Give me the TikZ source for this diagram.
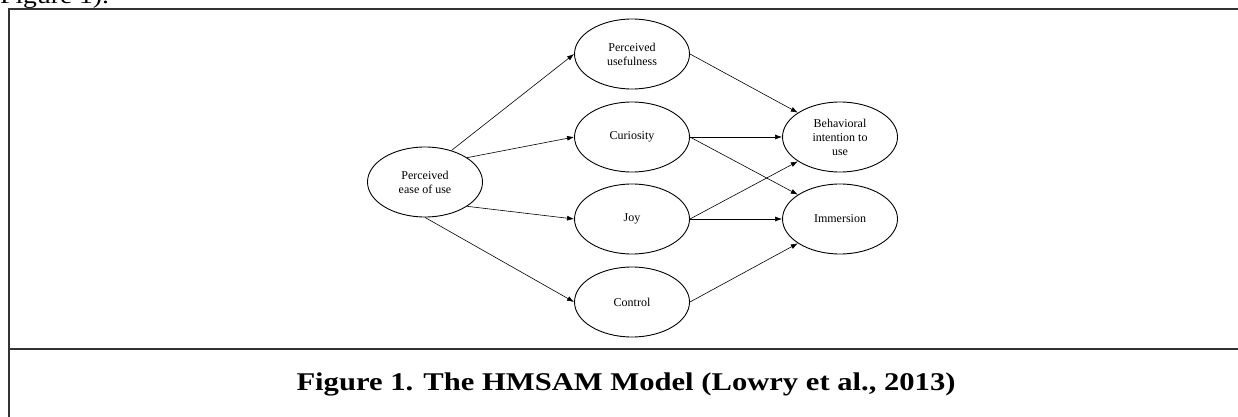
\documentclass[tikz,border=0pt]{standalone}
\usepackage{fontspec}
\setmainfont{Liberation Serif}
\newfontfamily\capfont[FakeStretch=1.2]{Liberation Serif}
\usetikzlibrary{arrows.meta,shapes.geometric}

\begin{document}
\begin{tikzpicture}[x=1pt,y=-1pt,every node/.style={align=center,font=\fontsize{12}{14}\selectfont},
 construct/.style={draw,ellipse,line width=.9pt,minimum width=115pt,minimum height=70pt,inner sep=0pt},
 arr/.style={-{Latex[length=7pt,width=5pt]},line width=.6pt},
 frame/.style={draw=black!80,line width=1.4pt}]
\useasboundingbox (0,0) rectangle (1238,417);
\clip (0,0) rectangle (1238,417);
\node[anchor=base west,inner sep=0pt,font=\capfont\fontsize{23}{28}\selectfont] (head) at (0,4) {Figure 1).};
\draw[frame] (1240,9) -- (9,9) -- (9,420);
\draw[frame] (9,349) -- (1240,349);
\node[construct] (peou) at (425,182) {Perceived\\ease of use};
\node[construct] (pu) at (632,54) {Perceived\\usefulness};
\node[construct] (cur) at (632,137) {Curiosity};
\node[construct] (joy) at (632,219) {Joy};
\node[construct] (ctrl) at (632,302) {Control};
\node[construct] (bi) at (840,137) {Behavioral\\intention to\\use};
\node[construct] (imm) at (840,219) {Immersion};
\draw[arr] (peou.50)--(pu.west);
\draw[arr] (peou.30)--(cur.west);
\draw[arr] (peou.-30)--(joy.west);
\draw[arr] (peou.south)--(ctrl.west);
\draw[arr] (pu.east)--(bi.150);
\draw[arr] (cur.east)--(bi.west);
\draw[arr] (cur.east)--(imm.150);
\draw[arr] (joy.east)--(bi.210);
\draw[arr] (joy.east)--(imm.west);
\draw[arr] (ctrl.east)--(imm.210);
\node[anchor=base,font=\capfont\bfseries\fontsize{25.5}{30}\selectfont] (caption) at (626,390) {Figure 1. The HMSAM Model (Lowry et al., 2013)};
\end{tikzpicture}
\end{document}
